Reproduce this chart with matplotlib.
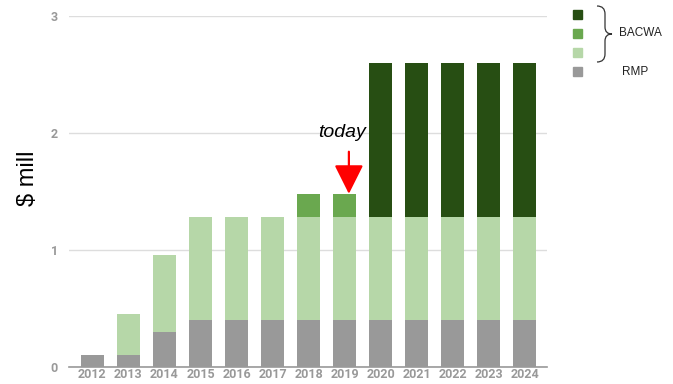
import matplotlib
matplotlib.use("Agg")
import matplotlib.pyplot as plt
from matplotlib.patches import Rectangle, PathPatch
from matplotlib.path import Path
import numpy as np

# data ($ mill)
years = ["2012", "2013", "2014", "2015", "2016", "2017", "2018",
         "2019", "2020", "2021", "2022", "2023", "2024"]
rmp = [0.10, 0.10, 0.30, 0.40, 0.40, 0.40, 0.40, 0.40, 0.40, 0.40, 0.40, 0.40, 0.40]
bacwa_light = [0.00, 0.35, 0.66, 0.88, 0.88, 0.88, 0.88, 0.88, 0.88, 0.88, 0.88, 0.88, 0.88]
bacwa_mid = [0.00, 0.00, 0.00, 0.00, 0.00, 0.00, 0.20, 0.20, 0.00, 0.00, 0.00, 0.00, 0.00]
bacwa_dark = [0.00, 0.00, 0.00, 0.00, 0.00, 0.00, 0.00, 0.00, 1.32, 1.32, 1.32, 1.32, 1.32]

c_gray = "#999999"
c_light = "#b6d7a8"
c_mid = "#6aa84f"
c_dark = "#274e13"

W, H = 673, 384
fig = plt.figure(figsize=(W / 100, H / 100), dpi=100)
ax = fig.add_axes([69 / W, 1 - 367 / H, (547 - 69) / W, (367 - 16) / H])

x = np.arange(len(years))
bw = 0.63
b1 = np.array(rmp)
b2 = b1 + np.array(bacwa_light)
b3 = b2 + np.array(bacwa_mid)
ax.bar(x, rmp, bw, color=c_gray, zorder=3)
ax.bar(x, bacwa_light, bw, bottom=b1, color=c_light, zorder=3)
ax.bar(x, bacwa_mid, bw, bottom=b2, color=c_mid, zorder=3)
ax.bar(x, bacwa_dark, bw, bottom=b3, color=c_dark, zorder=3)

ax.set_xlim(-0.65, 12.62)
ax.set_ylim(0, 3)
ax.set_yticks([0, 1, 2, 3])
ax.set_xticks(x)
ax.set_xticklabels(years)
ax.grid(axis="y", color="#dddddd", linewidth=1, zorder=0)
for s in ["top", "right", "left"]:
    ax.spines[s].set_visible(False)
ax.spines["bottom"].set_color("#999999")
ax.spines["bottom"].set_linewidth(1.2)
ax.spines["bottom"].set_zorder(4)
ax.tick_params(length=0, labelsize=9, labelcolor="#999999")
ax.tick_params(axis="x", pad=1)
ax.tick_params(axis="y", pad=8)
for lbl in ax.get_xticklabels() + ax.get_yticklabels():
    lbl.set_fontfamily("Roboto")
    lbl.set_fontweight("bold")

# y label sits a bit above the axes centre
fig.text(28 / W, 1 - 178 / H, "$ mill", fontsize=17, family="Liberation Sans",
         rotation=90, ha="center", va="center")

# today marker
ax.annotate("", xy=(7.12, 1.48), xytext=(7.12, 1.84),
            arrowprops=dict(arrowstyle="-|>,head_length=1.8,head_width=0.9",
                            color="red", lw=1.6, shrinkA=0, shrinkB=0),
            zorder=5)
ax.text(6.92, 1.97, "today", fontsize=14, style="italic",
        family="Liberation Sans", ha="center", va="baseline")

# legend drawn by hand
for yc, col in zip([14, 33, 52, 71], [c_dark, c_mid, c_light, c_gray]):
    fig.patches.append(Rectangle((573 / W, 1 - (yc + 4.5) / H), 9 / W, 9 / H,
                                 color=col, transform=fig.transFigure))
fig.text(619 / W, 1 - 33 / H, "BACWA", fontsize=8.5, family="Liberation Sans",
         va="center", color="#222222")
fig.text(622 / W, 1 - 72 / H, "RMP", fontsize=8.5, family="Liberation Sans",
         va="center", color="#222222")

# curly brace (figure pixels)
pts = [(597, 6), (605, 6), (605, 14), (605, 27), (605, 34), (612, 34),
       (605, 34), (605, 41), (605, 54), (605, 62), (597, 62)]
codes = [Path.MOVETO, Path.CURVE3, Path.CURVE3, Path.LINETO, Path.CURVE3, Path.CURVE3,
         Path.CURVE3, Path.CURVE3, Path.LINETO, Path.CURVE3, Path.CURVE3]
pts = [(px / W, 1 - py / H) for px, py in pts]
fig.patches.append(PathPatch(Path(pts, codes), fill=False, lw=0.9,
                             edgecolor="#333333", transform=fig.transFigure))

fig.savefig("out.png", dpi=100)
